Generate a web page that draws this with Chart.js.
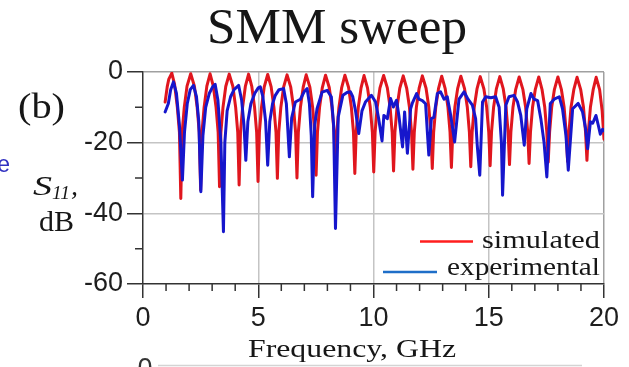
<!DOCTYPE html>
<html>
<head>
<meta charset="utf-8">
<script src="https://cdn.jsdelivr.net/npm/chart.js@4.4.1/dist/chart.umd.min.js"></script>
<style>
  html, body { margin: 0; padding: 0; background: #fff; }
  canvas { display: block; }
</style>
</head>
<body>
<canvas id="chart" width="629" height="367"></canvas>
<script>
// S11 sweep (GHz / dB)
const simFreq = [
  0.96, 1.05, 1.12, 1.25, 1.37, 1.49, 1.58, 1.64,
  1.70, 1.79, 1.91, 2.07, 2.23, 2.35, 2.44, 2.50,
  2.56, 2.65, 2.77, 2.91, 3.05, 3.17, 3.26, 3.32,
  3.38, 3.47, 3.59, 3.74, 3.90, 4.02, 4.11, 4.17,
  4.23, 4.32, 4.44, 4.58, 4.72, 4.84, 4.93, 4.99,
  5.05, 5.14, 5.26, 5.41, 5.56, 5.68, 5.77, 5.83,
  5.89, 5.98, 6.10, 6.25, 6.41, 6.53, 6.62, 6.68,
  6.74, 6.83, 6.95, 7.08, 7.24, 7.36, 7.45, 7.51,
  7.57, 7.66, 7.78, 7.92, 8.08, 8.20, 8.29, 8.35,
  8.41, 8.50, 8.62, 8.76, 8.92, 9.04, 9.13, 9.19,
  9.25, 9.34, 9.46, 9.59, 9.74, 9.86, 9.95, 10.01,
  10.07, 10.16, 10.28, 10.44, 10.60, 10.72, 10.81, 10.87,
  10.93, 11.02, 11.14, 11.29, 11.44, 11.56, 11.65, 11.71,
  11.77, 11.86, 11.98, 12.12, 12.28, 12.40, 12.49, 12.55,
  12.61, 12.70, 12.82, 12.96, 13.11, 13.23, 13.32, 13.38,
  13.44, 13.53, 13.65, 13.79, 13.95, 14.07, 14.16, 14.22,
  14.28, 14.37, 14.49, 14.63, 14.79, 14.91, 15.00, 15.06,
  15.12, 15.21, 15.33, 15.48, 15.63, 15.75, 15.84, 15.90,
  15.96, 16.05, 16.17, 16.32, 16.48, 16.60, 16.69, 16.75,
  16.81, 16.90, 17.02, 17.17, 17.31, 17.43, 17.52, 17.58,
  17.64, 17.73, 17.85, 18.00, 18.15, 18.27, 18.36, 18.42,
  18.48, 18.57, 18.69, 18.83, 18.99, 19.11, 19.20, 19.26,
  19.32, 19.41, 19.53, 19.66, 19.81, 19.92, 20.00
];
const simDb = [
  -8.5, -4.2, -2.0, -0.3, -3.5, -10, -17, -35.8,
  -17, -10, -4.0, -0.5, -4.0, -10, -17, -33.4,
  -17, -10, -4.0, -0.5, -4.0, -10, -17, -32.5,
  -17, -10, -4.1, -0.6, -4.1, -10, -17, -32,
  -17, -10, -4.1, -0.6, -4.1, -10, -17, -31,
  -17, -10, -4.2, -0.7, -4.2, -10, -17, -30.1,
  -17, -10, -4.3, -0.8, -4.3, -10, -17, -30,
  -17, -10, -4.3, -0.8, -4.3, -10, -17, -29.2,
  -17, -10, -4.4, -0.9, -4.4, -10, -17, -29,
  -17, -10, -4.4, -0.9, -4.4, -10, -17, -28.7,
  -17, -10, -4.5, -1.0, -4.5, -10, -17, -28.3,
  -17, -10, -4.5, -1.0, -4.5, -10, -17, -28,
  -17, -10, -4.6, -1.1, -4.6, -10, -17, -27.5,
  -17, -10, -4.6, -1.1, -4.6, -10, -17, -27.3,
  -17, -10, -4.7, -1.2, -4.7, -10, -17, -27,
  -17, -10, -4.7, -1.2, -4.7, -10, -17, -26.8,
  -17, -10, -4.8, -1.3, -4.8, -10, -17, -26.5,
  -17, -10, -4.8, -1.3, -4.8, -10, -17, -26.2,
  -17, -10, -4.9, -1.4, -4.9, -10, -17, -25.9,
  -17, -10, -4.9, -1.4, -4.9, -10, -17, -25.5,
  -17, -10, -4.9, -1.4, -4.9, -10, -17, -25.3,
  -17, -10, -5.0, -1.5, -5.0, -10, -17, -25,
  -17, -10, -5.0, -1.5, -5.0, -11, -19
];
const expFreq = [
  0.96, 1.10, 1.20, 1.32, 1.45, 1.58, 1.71, 1.80, 1.92, 2.05,
  2.19, 2.32, 2.42, 2.51, 2.60, 2.72, 2.88, 3.02, 3.13, 3.25,
  3.38, 3.49, 3.55, 3.65, 3.80, 3.95, 4.15, 4.28, 4.38, 4.46,
  4.55, 4.68, 4.85, 5.00, 5.09, 5.20, 5.32, 5.41, 5.50, 5.62,
  5.74, 5.90, 6.10, 6.22, 6.35, 6.45, 6.61, 6.83, 7.00, 7.12,
  7.22, 7.30, 7.36, 7.45, 7.55, 7.77, 7.99, 8.17, 8.27, 8.35,
  8.47, 8.67, 8.85, 9.00, 9.10, 9.22, 9.36, 9.50, 9.65, 9.91,
  10.09, 10.22, 10.37, 10.45, 10.60, 10.74, 10.86, 11.00, 11.10, 11.26,
  11.35, 11.47, 11.61, 11.68, 11.87, 11.97, 12.12, 12.26, 12.40, 12.51,
  12.62, 12.77, 12.91, 13.06, 13.20, 13.35, 13.52, 13.71, 13.93, 14.10,
  14.29, 14.43, 14.50, 14.61, 14.73, 14.87, 15.09, 15.30, 15.45, 15.55,
  15.60, 15.74, 15.88, 16.10, 16.25, 16.39, 16.54, 16.65, 16.83, 16.97,
  17.12, 17.26, 17.40, 17.52, 17.67, 17.84, 18.06, 18.20, 18.35, 18.45,
  18.64, 18.88, 19.07, 19.20, 19.29, 19.41, 19.51, 19.65, 19.75, 19.84,
  19.94, 20.00
];
const expDb = [
  -11.3, -8.9, -5.0, -2.8, -6.0, -15, -30.6, -17, -9, -5,
  -3.8, -7, -14, -33.9, -18, -10, -6, -4.2, -3.5, -8,
  -20, -45.2, -20, -11, -7, -5, -3.8, -8, -15, -25,
  -14, -9, -6, -4.5, -4.2, -7, -14, -26.4, -14, -9,
  -6.6, -5, -4.7, -9, -24, -13, -8.5, -7.7, -5.5, -4.7,
  -9, -18, -35.3, -15, -10.4, -5.7, -5.2, -7, -15, -44.3,
  -12.7, -6.6, -5.8, -5.6, -7, -11, -17.4, -11, -8.5, -6.6,
  -8.5, -13, -19.5, -12.3, -13.2, -7.5, -9.9, -8, -12.3, -21.2,
  -11.3, -23, -10.4, -8.9, -6.1, -7.7, -8.1, -9, -23.5, -13.2,
  -12.8, -6.1, -5.6, -7.7, -7, -12.3, -19.8, -7.7, -5.6, -7.7,
  -9.4, -13.2, -20.7, -29.2, -8.5, -7, -7.3, -7, -10, -20,
  -34.9, -9.4, -7, -6.6, -8.5, -12.3, -20.7, -10.4, -6.1, -7.7,
  -8.1, -13.2, -20, -29.7, -8.9, -7.7, -7, -10.4, -18, -27.8,
  -10.4, -8.9, -11.3, -16, -21.7, -14.1, -14.5, -12.3, -15, -17.6,
  -16.2, -16.6
];
const seriesNames = ['simulated', 'experimental'];
const xTickLabels = [0, 5, 10, 15, 20];
const yTickLabels = [0, -20, -40, -60];

const SERIF = "'Liberation Serif', 'Times New Roman', serif";
const SANS = "'Liberation Sans', Arial, sans-serif";
const simColor = '#e0161e';
const expColor = '#1616cc';

function toPoints(fx, fy) {
  return fx.map((f, i) => ({ x: f, y: fy[i] }));
}

// draw text stretched to a measured width from the figure
function fitText(ctx, text, x, y, width, align) {
  const w = ctx.measureText(text).width;
  ctx.save();
  ctx.translate(x, y);
  ctx.scale(width / w, 1);
  ctx.textAlign = align;
  ctx.fillText(text, 0, 0);
  ctx.restore();
}

const paper = {
  id: 'paper',
  beforeDraw(chart) {
    const ctx = chart.ctx;
    ctx.save();
    ctx.fillStyle = '#fff';
    ctx.fillRect(0, 0, chart.width, chart.height);
    ctx.restore();
  },
  afterDraw(chart) {
    const ctx = chart.ctx;
    const xs = chart.scales.x, ys = chart.scales.y;
    ctx.save();

    // minor ticks
    ctx.strokeStyle = '#333';
    ctx.lineWidth = 1.5;
    ctx.beginPath();
    for (let v = 1; v < 20; v++) {
      if (v % 5 === 0) continue;
      const px = xs.getPixelForValue(v);
      ctx.moveTo(px, xs.top);
      ctx.lineTo(px, xs.top + 7);
    }
    [-10, -30, -50].forEach(v => {
      const py = ys.getPixelForValue(v);
      ctx.moveTo(ys.right - 8, py);
      ctx.lineTo(ys.right, py);
    });
    ctx.stroke();

    ctx.fillStyle = '#161616';
    ctx.textBaseline = 'alphabetic';

    ctx.font = '50px ' + SERIF;
    fitText(ctx, 'SMM sweep', 337, 43, 260, 'center');

    ctx.font = '36px ' + SERIF;
    fitText(ctx, '(b)', 18, 118, 47, 'left');

    ctx.font = 'italic 28px ' + SERIF;
    fitText(ctx, 'S', 33, 195, 19, 'left');
    ctx.font = 'italic 19px ' + SERIF;
    fitText(ctx, '11', 52, 199, 18, 'left');
    ctx.font = 'italic 28px ' + SERIF;
    ctx.textAlign = 'left';
    ctx.fillText(',', 71, 195);

    ctx.font = '30px ' + SERIF;
    fitText(ctx, 'dB', 39, 231, 35, 'left');

    ctx.font = '26px ' + SERIF;
    fitText(ctx, 'Frequency, GHz', 248, 357, 208, 'left');

    // legend
    ctx.lineWidth = 2.5;
    ctx.strokeStyle = '#ff1e1e';
    ctx.beginPath();
    ctx.moveTo(420, 241.5);
    ctx.lineTo(473, 241.5);
    ctx.stroke();
    ctx.strokeStyle = '#1e6ec8';
    ctx.beginPath();
    ctx.moveTo(383, 272);
    ctx.lineTo(437, 272);
    ctx.stroke();
    ctx.font = '26px ' + SERIF;
    fitText(ctx, seriesNames[0], 482, 247.5, 118, 'left');
    fitText(ctx, seriesNames[1], 447, 275, 153, 'left');

    // cut-off bits from the neighbouring panels
    ctx.fillStyle = '#3030c0';
    ctx.font = '23px ' + SANS;
    ctx.textAlign = 'right';
    ctx.fillText('e', 10, 171.5);
    ctx.fillStyle = '#333';
    ctx.font = '27px ' + SANS;
    ctx.textAlign = 'center';
    ctx.textBaseline = 'top';
    ctx.fillText('0', 145, 356);
    ctx.strokeStyle = '#d4d4d4';
    ctx.lineWidth = 1.5;
    ctx.beginPath();
    ctx.moveTo(158, 365.5);
    ctx.lineTo(582, 365.5);
    ctx.stroke();

    ctx.restore();
  }
};

const ctx = document.getElementById('chart');
const myChart = new Chart(ctx, {
  type: 'line',
  data: {
    datasets: [{
      label: seriesNames[1],
      data: toPoints(expFreq, expDb),
      borderColor: expColor,
      borderWidth: 3,
      pointRadius: 0,
      tension: 0,
      borderJoinStyle: 'round',
      borderCapStyle: 'round'
    }, {
      label: seriesNames[0],
      data: toPoints(simFreq, simDb),
      borderColor: simColor,
      borderWidth: 3,
      pointRadius: 0,
      tension: 0,
      borderJoinStyle: 'round',
      borderCapStyle: 'round'
    }]
  },
  options: {
    responsive: false,
    devicePixelRatio: 1,
    animation: false,
    layout: { padding: { top: 72, right: 25, left: 0, bottom: 0 } },
    plugins: {
      legend: { display: false },
      tooltip: { enabled: false }
    },
    scales: {
      x: {
        type: 'linear',
        min: 0,
        max: 20,
        afterFit: s => { s.height = 83; },
        border: { display: true, color: '#333', width: 1.5 },
        grid: {
          lineWidth: 1.5,
          tickLength: 14,
          tickWidth: 1.5,
          color: c => (c.tick && [5, 10, 15].includes(c.tick.value)) ? '#c4c4c4' : (c.tick && c.tick.value === 20 ? '#a0a0a0' : 'rgba(0,0,0,0)'),
          tickColor: c => (c.tick && xTickLabels.includes(c.tick.value)) ? '#333' : 'rgba(0,0,0,0)'
        },
        ticks: {
          stepSize: 1,
          autoSkip: false,
          maxRotation: 0,
          padding: 4,
          color: '#1e1e1e',
          font: { family: SANS, size: 27 },
          callback: v => xTickLabels.includes(v) ? String(v) : ''
        }
      },
      y: {
        min: -60,
        max: 0,
        afterFit: s => { s.width = 143; },
        border: { display: true, color: '#333', width: 1.5 },
        grid: {
          lineWidth: 1.5,
          tickLength: 16,
          tickWidth: 1.5,
          color: c => (c.tick && [-20, -40].includes(c.tick.value)) ? '#c4c4c4' : (c.tick && c.tick.value === 0 ? '#a0a0a0' : 'rgba(0,0,0,0)'),
          tickColor: c => (c.tick && yTickLabels.includes(c.tick.value)) ? '#333' : 'rgba(0,0,0,0)'
        },
        ticks: {
          stepSize: 10,
          padding: 4,
          color: '#1e1e1e',
          font: { family: SANS, size: 27 },
          callback: v => yTickLabels.includes(v) ? String(v) : ''
        }
      }
    }
  },
  plugins: [paper]
});
</script>
</body>
</html>
